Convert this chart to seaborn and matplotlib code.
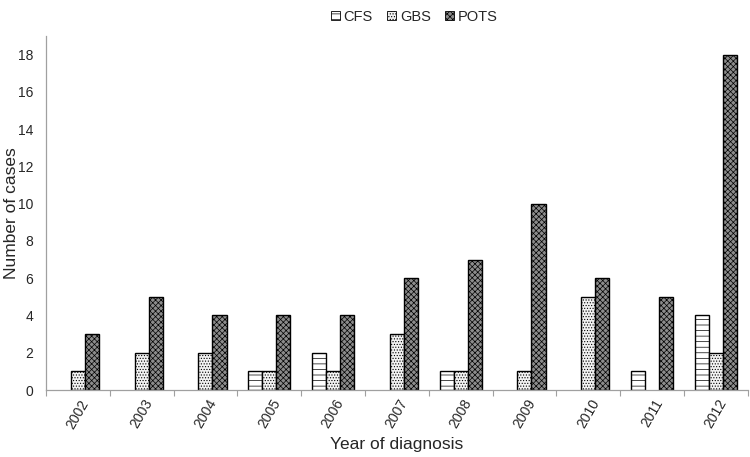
import numpy as np
import pandas as pd
import matplotlib
matplotlib.use("Agg")
import matplotlib.pyplot as plt
import seaborn as sns
from matplotlib.patches import Patch

years = ["2002", "2003", "2004", "2005", "2006", "2007", "2008", "2009", "2010", "2011", "2012"]
cfs = [0, 0, 0, 1, 2, 0, 1, 0, 0, 1, 4]
gbs = [1, 2, 2, 1, 1, 3, 1, 1, 5, 0, 2]
pots = [3, 5, 4, 4, 4, 6, 7, 10, 6, 5, 18]
groups = ["CFS", "GBS", "POTS"]

sns.set_style("white")
plt.rcParams["font.family"] = ["Liberation Sans", "DejaVu Sans"]
plt.rcParams["hatch.linewidth"] = 0.5

df = pd.DataFrame({"year": years * 3,
                   "group": ["CFS"] * 11 + ["GBS"] * 11 + ["POTS"] * 11,
                   "cases": cfs + gbs + pots})

fig = plt.figure(figsize=(7.5, 4.57), dpi=100)
ax = fig.add_axes([0.0613, 0.1466, 0.9357, 0.7744])

sns.barplot(data=df, x="year", y="cases", hue="group", hue_order=groups,
            palette=["white", "white", "#8c8c8c"], width=0.66, gap=0,
            edgecolor="black", linewidth=1.0, ax=ax, legend=False)

# fill + hatch per group (bars from the seaborn containers)
styles = {"CFS": ("white", "---"), "GBS": ("#f2f2f2", "......"), "POTS": ("#8c8c8c", "xxxxxx")}
for cont, g in zip(ax.containers, groups):
    fc, h = styles[g]
    for bar in cont:
        bar.set_facecolor(fc)
        bar.set_hatch(h)
        if bar.get_height() == 0:
            bar.set_visible(False)

handles = [Patch(facecolor=styles[g][0], edgecolor="black", hatch=styles[g][1], linewidth=0.6, label=g)
           for g in groups]
ax.legend(handles=handles, loc="lower center", bbox_to_anchor=(0.525, 1.01), ncol=3, frameon=False,
          fontsize=10.5, handlelength=0.6, handleheight=0.6, handletextpad=0.25, columnspacing=1.0,
          borderaxespad=0.2)

ax.set_ylim(0, 19)
ax.set_xlim(-0.5, 10.5)
ax.set_yticks(np.arange(0, 19, 2))
ax.set_xticks(range(11))
ax.set_xticklabels(years, rotation=60, ha="center", va="top", fontsize=10)
ax.set_xticks(np.arange(-0.5, 11, 1), minor=True)
ax.tick_params(axis="x", which="major", length=0, pad=5)
ax.tick_params(axis="x", which="minor", bottom=True, length=4, color="#a0a0a0", width=0.8, direction="out")
ax.tick_params(axis="y", length=4, color="#a0a0a0", width=0.8, direction="out", labelsize=10, pad=5)

for s in ["top", "right"]:
    ax.spines[s].set_visible(False)
for s in ["left", "bottom"]:
    ax.spines[s].set_color("#a0a0a0")
    ax.spines[s].set_linewidth(0.9)

ax.set_xlabel("Year of diagnosis", fontsize=12.5, labelpad=4)
ax.set_ylabel("Number of cases", fontsize=12.5)
ax.yaxis.set_label_coords(-0.038, 0.5)

fig.savefig("out.png", dpi=100)
